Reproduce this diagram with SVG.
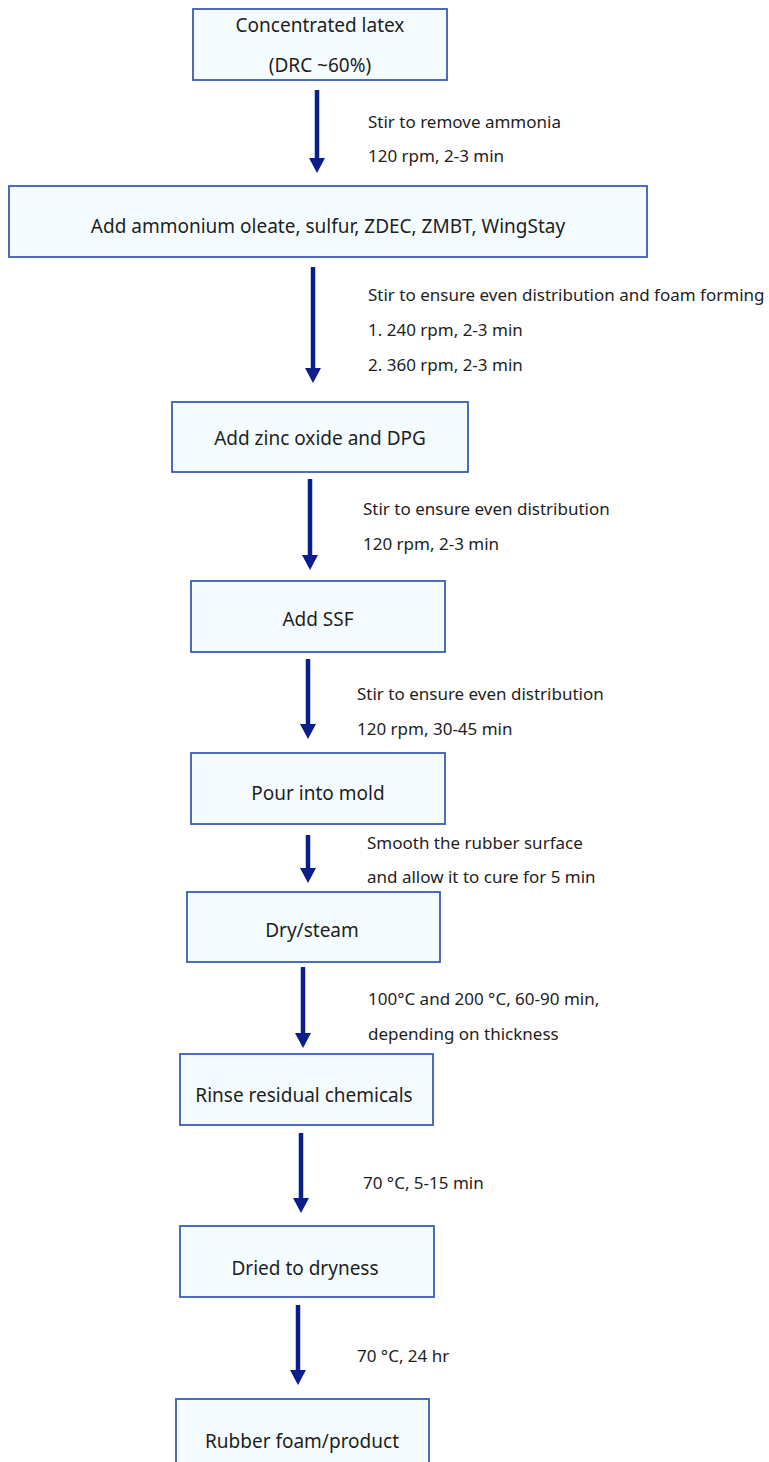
<svg xmlns="http://www.w3.org/2000/svg" width="769" height="1462" viewBox="0 0 769 1462">
<style>
.box{fill:#f5fcff;stroke:#3b5cb5;stroke-width:1.8}
.t{font-family:"Noto Sans","Liberation Sans",sans-serif;font-size:19px;fill:#1e1e1e;text-anchor:middle}
.l{font-family:"Noto Sans","Liberation Sans",sans-serif;font-size:17px;fill:#1e1e1e}
.c{stroke:#0c1e8c;stroke-width:4.5;fill:none;marker-end:url(#ah)}
</style>
<defs>
<marker id="ah" markerUnits="userSpaceOnUse" viewBox="0 0 16 16" markerWidth="16" markerHeight="16" refX="5" refY="8" orient="auto">
<path d="M0,0 L15,8 L0,16 z" fill="#0c1e8c"/>
</marker>
</defs>
<rect width="769" height="1462" fill="#ffffff"/>
<g id="connectors">
<line class="c" x1="317" y1="90" x2="317" y2="163"/>
<line class="c" x1="313" y1="267" x2="313" y2="373"/>
<line class="c" x1="310" y1="479" x2="310" y2="560"/>
<line class="c" x1="308" y1="659" x2="308" y2="729"/>
<line class="c" x1="308" y1="835" x2="308" y2="873"/>
<line class="c" x1="303" y1="967" x2="303" y2="1038"/>
<line class="c" x1="301" y1="1133" x2="301" y2="1203"/>
<line class="c" x1="298" y1="1305" x2="298" y2="1375"/>
</g>
<g id="labels">
<text class="l" x="368" y="128">Stir to remove ammonia</text>
<text class="l" x="368" y="162">120 rpm, 2-3 min</text>
<text class="l" x="368" y="301">Stir to ensure even distribution and foam forming</text>
<text class="l" x="368" y="336">1. 240 rpm, 2-3 min</text>
<text class="l" x="368" y="371">2. 360 rpm, 2-3 min</text>
<text class="l" x="363" y="515">Stir to ensure even distribution</text>
<text class="l" x="363" y="550">120 rpm, 2-3 min</text>
<text class="l" x="357" y="700">Stir to ensure even distribution</text>
<text class="l" x="357" y="735">120 rpm, 30-45 min</text>
<text class="l" x="367" y="849">Smooth the rubber surface</text>
<text class="l" x="367" y="883">and allow it to cure for 5 min</text>
<text class="l" x="368" y="1005">100°C and 200 °C, 60-90 min,</text>
<text class="l" x="368" y="1040">depending on thickness</text>
<text class="l" x="363" y="1189">70 °C, 5-15 min</text>
<text class="l" x="357" y="1362">70 °C, 24 hr</text>
</g>
<g id="n1"><rect class="box" x="193" y="9" width="254" height="71"/><text class="t" x="320" y="32">Concentrated latex</text><text class="t" x="320" y="72">(DRC ~60%)</text></g>
<g id="n2"><rect class="box" x="9" y="186" width="638" height="71"/><text class="t" x="328" y="233">Add ammonium oleate, sulfur, ZDEC, ZMBT, WingStay</text></g>
<g id="n3"><rect class="box" x="172" y="402" width="296" height="70"/><text class="t" x="320" y="445">Add zinc oxide and DPG</text></g>
<g id="n4"><rect class="box" x="191" y="581" width="254" height="71"/><text class="t" x="318" y="626">Add SSF</text></g>
<g id="n5"><rect class="box" x="191" y="753" width="254" height="71"/><text class="t" x="318" y="800">Pour into mold</text></g>
<g id="n6"><rect class="box" x="187" y="892" width="253" height="70"/><text class="t" x="312" y="937">Dry/steam</text></g>
<g id="n7"><rect class="box" x="180" y="1054" width="253" height="71"/><text class="t" x="304" y="1102">Rinse residual chemicals</text></g>
<g id="n8"><rect class="box" x="180" y="1226" width="254" height="71"/><text class="t" x="305" y="1275">Dried to dryness</text></g>
<g id="n9"><rect class="box" x="176" y="1399" width="253" height="75"/><text class="t" x="302" y="1448">Rubber foam/product</text></g>
</svg>
